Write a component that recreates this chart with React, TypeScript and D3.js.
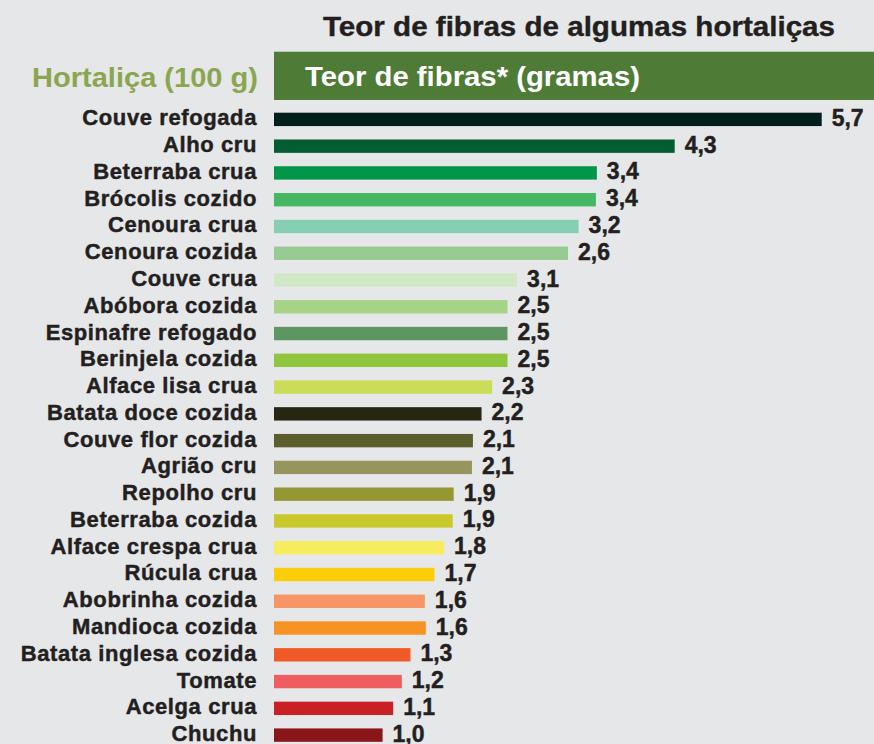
import React from "react";
import * as d3 from "d3";

const title = "Teor de fibras de algumas hortaliças";
const leftHeader = "Hortaliça (100 g)";
const rightHeader = "Teor de fibras* (gramas)";

const categories = [
  "Couve refogada", "Alho cru", "Beterraba crua", "Brócolis cozido", "Cenoura crua",
  "Cenoura cozida", "Couve crua", "Abóbora cozida", "Espinafre refogado", "Berinjela cozida",
  "Alface lisa crua", "Batata doce cozida", "Couve flor cozida", "Agrião cru", "Repolho cru",
  "Beterraba cozida", "Alface crespa crua", "Rúcula crua", "Abobrinha cozida", "Mandioca cozida",
  "Batata inglesa cozida", "Tomate", "Acelga crua", "Chuchu",
];

// printed values
const valueLabels = [
  "5,7", "4,3", "3,4", "3,4", "3,2", "2,6", "3,1", "2,5", "2,5", "2,5", "2,3", "2,2",
  "2,1", "2,1", "1,9", "1,9", "1,8", "1,7", "1,6", "1,6", "1,3", "1,2", "1,1", "1,0",
];

// bar lengths as drawn in the picture (grams scale)
const barLengths = [
  5.70, 4.17, 3.36, 3.35, 3.17, 3.06, 2.53, 2.43, 2.43, 2.43, 2.27, 2.16,
  2.07, 2.06, 1.87, 1.86, 1.77, 1.67, 1.57, 1.58, 1.42, 1.33, 1.24, 1.13,
];

const barColors = [
  "#011f1d", "#045c32", "#02964a", "#44b862", "#86cfb4", "#98ca94", "#d1e8c6", "#a6d386",
  "#5d9563", "#8fc63d", "#cbdc56", "#262713", "#5b5d2a", "#95955d", "#959735", "#c9c92b",
  "#f6ec60", "#fecd0a", "#f79566", "#f69324", "#f05a28", "#ef5d61", "#c92026", "#8a1619",
];

const W = 874;
const H = 744;
const FONT = "'Liberation Sans', Arial, Helvetica, sans-serif";
const INK = "#231f20";

export default function App() {
  const x = d3.scaleLinear().domain([0, 5.7]).range([274, 821.7]);
  const y = d3
    .scaleBand<string>()
    .domain(categories)
    .range([106, 748.5])
    .paddingInner(0.5)
    .paddingOuter(0.25);
  const bw = y.bandwidth();

  return (
    <div style={{ position: "fixed", left: 0, top: 0, width: W, height: H, background: "#e6e7e9" }}>
      <svg width={W} height={H} style={{ display: "block" }} fontFamily={FONT}>
        <rect x={0} y={0} width={W} height={H} fill="#e6e7e9" />
        <text x={323} y={36} fontSize={28} fontWeight="bold" fill={INK} stroke={INK} strokeWidth={0.4} textLength={512} lengthAdjust="spacingAndGlyphs">
          {title}
        </text>
        <rect x={274} y={51.7} width={W - 274} height={48.3} fill="#4e7c37" />
        <text x={305} y={85.5} fontSize={28} fontWeight="bold" fill="#ffffff" textLength={335} lengthAdjust="spacingAndGlyphs">
          {rightHeader}
        </text>
        <text x={258} y={86.5} fontSize={28} fontWeight="bold" fill="#8aa650" textAnchor="end" textLength={226} lengthAdjust="spacingAndGlyphs">
          {leftHeader}
        </text>
        {categories.map((c, i) => {
          const yy = y(c)!;
          const cy = yy + bw / 2;
          const x1 = x(barLengths[i]);
          return (
            <g key={c}>
              <rect x={x(0)} y={yy} width={x1 - x(0)} height={bw} fill={barColors[i]} />
              <text x={257} y={cy + 6} fontSize={22} fontWeight="bold" fill={INK} stroke={INK} strokeWidth={0.45} letterSpacing={0.6} textAnchor="end">
                {c}
              </text>
              <text x={x1 + 10} y={cy + 6.5} fontSize={23} fontWeight="bold" fill={INK} stroke={INK} strokeWidth={0.45}>
                {valueLabels[i]}
              </text>
            </g>
          );
        })}
      </svg>
    </div>
  );
}
